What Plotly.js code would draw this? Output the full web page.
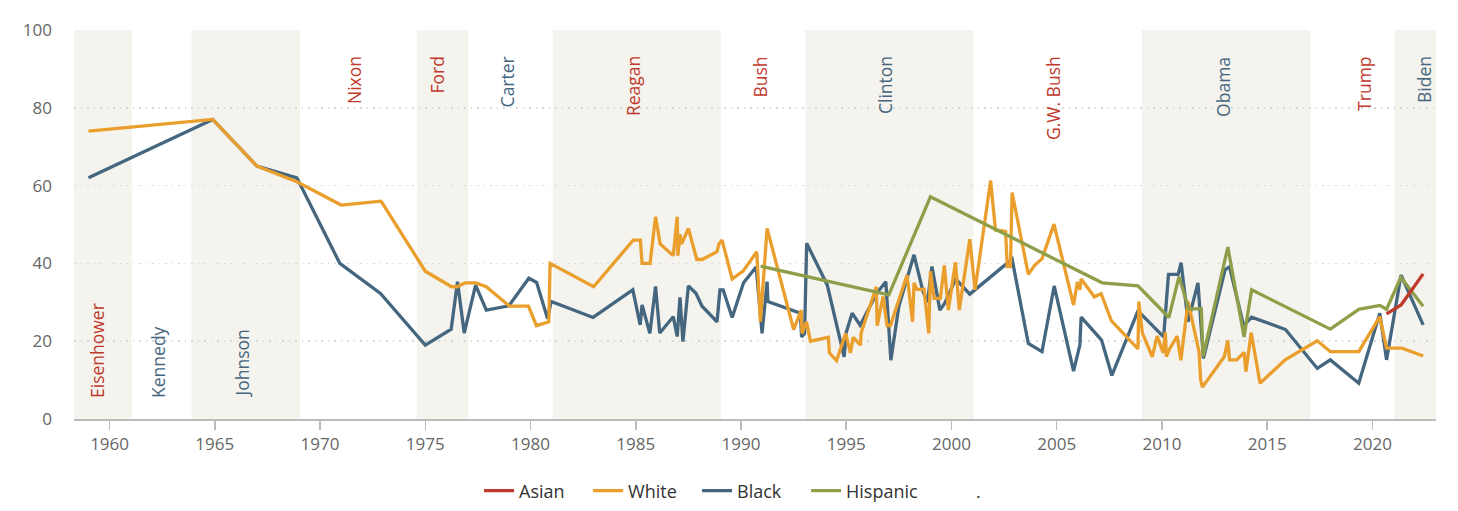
<!DOCTYPE html>
<html><head><meta charset="utf-8">
<script src="https://cdn.plot.ly/plotly-3.0.1.min.js"></script>
<style>html,body{margin:0;padding:0;background:#fff}#chart{width:1458px;height:511px}</style>
</head><body><div id="chart"></div>
<script>
// ---------- data ----------
const whiteX = [1959.0,1964.9,1967.0,1968.9,1971.0,1972.9,1975.0,1976.25,1976.5,1976.9,1977.4,1977.9,1979.0,1979.9,1980.28,1980.87,1980.93,1983.0,1984.88,1985.22,1985.3,1985.68,1985.94,1986.16,1986.78,1986.97,1987.0,1987.1,1987.18,1987.5,1987.9,1988.15,1988.86,1988.95,1989.1,1989.58,1990.1,1990.75,1990.92,1991.24,1992.5,1992.86,1992.9,1993.11,1993.3,1994.15,1994.2,1994.54,1994.97,1995.2,1995.33,1995.68,1995.7,1996.43,1996.47,1996.75,1996.94,1997.1,1997.89,1998.15,1998.22,1998.36,1998.7,1998.92,1999.0,1999.17,1999.47,1999.66,1999.85,2000.19,2000.37,2000.87,2001.12,2001.86,2002.09,2002.57,2002.65,2002.8,2002.88,2003.65,2003.95,2004.3,2004.87,2005.8,2005.98,2006.1,2006.16,2006.79,2007.11,2007.6,2008.86,2008.9,2009.07,2009.54,2009.77,2010.06,2010.16,2010.21,2010.35,2010.72,2010.9,2011.24,2011.76,2011.84,2011.92,2012.96,2013.13,2013.21,2013.55,2013.9,2013.99,2014.24,2014.66,2015.87,2017.38,2018.0,2019.35,2020.35,2020.67,2021.41,2022.41];
const whiteY = [74,77,65,61,55,56,38,34,34,35,35,34,29,29,24,25,40,34,46,46,40,40,52,45,42,52,42,47.5,45,49,41,41,43,45,46,36,38,43,25,49,23,28,22,25,20,21,17,15,22,17,21,19,22,34,24,31.5,24,24,37,25,35,33.3,33.3,22,38,31,31,39.5,28,40.3,28,46.2,33.2,61.3,48.6,48.2,39.2,39.2,58.2,37.2,39.5,41.2,50.1,29.3,35.2,33.2,36,31.4,32.2,25.2,18,30.2,22.1,16,21.3,17,22.3,16,17.9,21.3,15.1,30.2,17.3,10,8.2,16,20.2,15.2,15.2,17.1,12.2,22.2,9.2,15.3,20.1,17.3,17.3,26.3,18.2,18.2,16.2];

const blackX = [1959.0,1964.9,1967.0,1968.9,1970.94,1972.87,1975.0,1976.23,1976.53,1976.85,1977.39,1977.9,1978.97,1979.92,1980.29,1980.81,1980.98,1982.97,1984.86,1985.21,1985.3,1985.67,1985.94,1986.14,1986.78,1986.97,1987.1,1987.24,1987.5,1987.86,1988.15,1988.86,1989.0,1989.15,1989.58,1990.12,1990.72,1991.0,1991.24,1991.28,1992.82,1992.88,1993.02,1993.12,1994.1,1994.9,1995.0,1995.28,1995.66,1996.47,1996.88,1997.12,1997.5,1998.22,1998.65,1998.86,1999.07,1999.45,1999.68,2000.2,2000.87,2002.57,2002.88,2003.65,2004.3,2004.88,2005.8,2006.1,2006.16,2007.13,2007.62,2008.86,2010.08,2010.31,2010.77,2010.91,2011.24,2011.71,2011.97,2013.0,2013.21,2013.88,2014.26,2015.87,2017.38,2018.0,2019.35,2020.35,2020.67,2021.36,2022.41];
const blackY = [62,77,65,62,40,32.3,19,23.1,35.3,22.1,34.4,28,29.1,36.2,35.1,25.8,30.2,26.1,33.2,24.2,29.3,22,34.1,22.1,26.3,21.2,31.3,19.9,34.2,32.3,29,25,33.2,33.2,26.1,35,39.1,22,35.3,30.2,27.2,21.1,22,45.2,34.4,16,22.3,27.2,24.1,32.5,35.3,15.1,29,42.2,32.7,30,39.2,28,29.8,36,32.1,39.5,41.1,19.4,17.3,34.2,12.3,19,26.2,20.3,11.2,27.8,21.1,37.2,37.2,40.2,25,35,15.6,38.4,39.1,24,26.2,23,13,15.2,9.2,27.2,15.2,37,24.2];

const hispX = [1990.93,1997.02,1999.0,2007.16,2008.86,2010.33,2010.81,2011.27,2011.87,2011.95,2013.13,2013.9,2014.26,2018.0,2019.35,2020.35,2020.67,2021.35,2022.41];
const hispY = [39.3,31.9,57.1,35.0,34.2,26.1,36.6,28.3,28.3,16,44.2,21.1,33.2,23.1,28.2,29.2,28.2,36.4,29];

const asianX = [2020.67,2021.36,2022.41];
const asianY = [27,29.3,37.3];

const presidents = ["Eisenhower","Kennedy","Johnson","Nixon","Ford","Carter","Reagan","Bush","Clinton","G.W. Bush","Obama","Trump","Biden"];
const party      = ["R","D","D","R","R","D","R","R","D","R","D","R","D"];
const termStart  = [1953.05,1961.05,1963.89,1969.05,1974.6,1977.05,1981.05,1989.05,1993.05,2001.05,2009.05,2017.05,2021.05];
const termEnd    = [1961.05,1963.89,1969.05,1974.6,1977.05,1981.05,1989.05,1993.05,2001.05,2009.05,2017.05,2021.05,2025.05];
const labelX     = [1959.43,1962.3,1966.27,1971.59,1975.58,1978.9,1984.85,1990.88,1996.82,2004.8,2012.87,2019.57,2022.45];
const labelAtBottom = [true,true,true,false,false,false,false,false,false,false,false,false,false];

const xTicks = [1960,1965,1970,1975,1980,1985,1990,1995,2000,2005,2010,2015,2020];
const yTicks = [0,20,40,60,80,100];

// ---------- style ----------
const C = {white:"#EA9F2C", black:"#44667F", hisp:"#8F9E48", asian:"#C0392B",
           rep:"#C0392B", dem:"#44667F", band:"#F4F3EE"};
const FONT = "Open Sans, Noto Sans, sans-serif";

const traces = [
  {x:blackX, y:blackY, name:"Black", legendrank:3, line:{color:C.black}},
  {x:whiteX, y:whiteY, name:"White", legendrank:2, line:{color:C.white}},
  {x:hispX,  y:hispY,  name:"Hispanic", legendrank:4, legendwidth:85, line:{color:C.hisp}},
  {x:asianX, y:asianY, name:"Asian", legendrank:1, line:{color:C.asian}},
  {x:[null], y:[null], name:".", legendrank:5, line:{color:"rgba(0,0,0,0)"}}
].map(t => Object.assign({type:"scatter", mode:"lines", hoverinfo:"skip"}, t,
       {line:Object.assign({width:3.3, shape:"linear"}, t.line)}));

const shapes = [];
termStart.forEach((s,i) => {
  if (i % 2 === 0) shapes.push({type:"rect", xref:"x", yref:"paper", x0:s, x1:termEnd[i], y0:0, y1:1,
    fillcolor:C.band, line:{width:0}, layer:"below"});
});

const annotations = presidents.map((p,i) => ({
  text:p, x:labelX[i], xref:"x", yref:"paper",
  y: labelAtBottom[i] ? 0.049 : 0.937,
  yanchor: labelAtBottom[i] ? "bottom" : "top", xanchor:"center",
  textangle:-90, showarrow:false,
  font:{family:FONT, size:17.5, color: party[i]==="R" ? C.rep : C.dem}
}));

const layout = {
  width:1458, height:511,
  margin:{l:74, r:22, t:29.5, b:92, autoexpand:false},
  paper_bgcolor:"#fff", plot_bgcolor:"rgba(0,0,0,0)",
  showlegend:true,
  legend:{orientation:"h", x:0.2974, xanchor:"left", y:-0.185, yanchor:"middle",
          entrywidth:64, entrywidthmode:"pixels",
          font:{family:FONT, size:18, color:"#333"}, bgcolor:"rgba(0,0,0,0)"},
  xaxis:{range:[1958.31,2023.02], tickvals:xTicks, ticktext:xTicks.map(String),
         showgrid:false, zeroline:false, showline:true, linecolor:"#BBBBBB", linewidth:2,
         ticks:"outside", ticklen:9, tickcolor:"#BBBBBB", tickwidth:1.5,
         tickfont:{family:FONT, size:17, color:"#666"}, fixedrange:true},
  yaxis:{range:[0,100], tickvals:yTicks, showgrid:true, gridcolor:"#D8D8D8", gridwidth:1.5, griddash:"1.5px,5px",
         zeroline:false, showline:false, ticks:"", ticklabelstandoff:21,
         tickfont:{family:FONT, size:17, color:"#666"}, fixedrange:true},
  shapes:shapes, annotations:annotations
};

Plotly.newPlot("chart", traces, layout, {displayModeBar:false, staticPlot:true});
</script>
</body></html>
